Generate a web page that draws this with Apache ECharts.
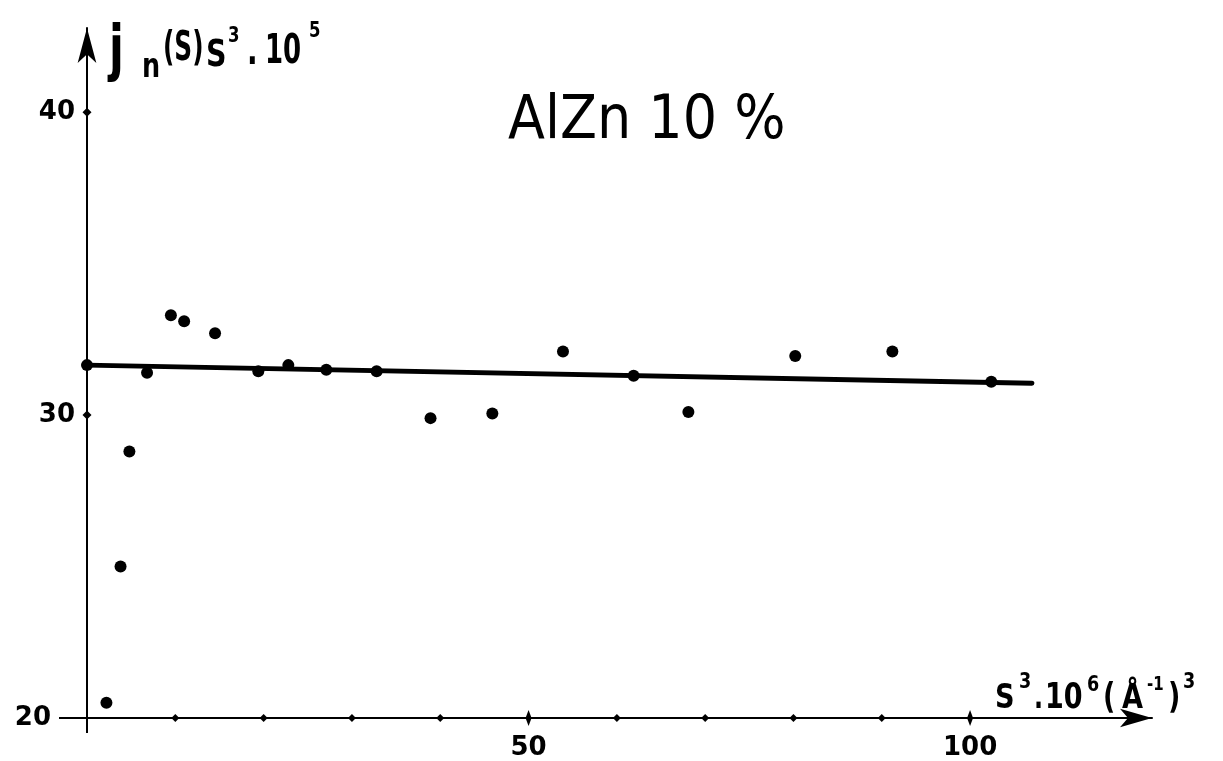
<!DOCTYPE html>
<html>
<head>
<meta charset="utf-8">
<script src="https://cdn.jsdelivr.net/npm/echarts@6/dist/echarts.min.js"></script>
<style>
  html, body { margin: 0; padding: 0; background: #fff; }
  #chart { width: 1223px; height: 761px; }
</style>
</head>
<body>
<div id="chart"></div>
<script>
// Measured points: s^3·10^6 (Å^-1)^3 against j_n(s)·s^3·10^5
const sCubed = [0, 2.2, 3.8, 4.8, 6.8, 9.5, 11.0, 14.5, 19.4, 22.8, 27.1, 32.8, 38.9, 45.9, 53.9, 61.9, 68.1, 80.2, 91.2, 102.4];
const jnS3 = [31.65, 20.5, 25.0, 28.8, 31.4, 33.3, 33.1, 32.7, 31.45, 31.65, 31.5, 31.45, 29.9, 30.05, 32.1, 31.3, 30.1, 31.95, 32.1, 31.1];

// Straight line fitted through the points
const fitX = [0, 107];
const fitY = [31.65, 31.05];

// Tick positions and labels
const xTickDots = [10, 20, 30, 40, 60, 70, 80, 90];
const xMajorTicks = [50, 100];
const xLabels = [50, 100];
const yTickDots = [30, 40];
const yLabels = [20, 30, 40];

const FONT = "'DejaVu Sans', sans-serif";
const INK = '#000';

// Hand-lettered captions, built piece by piece for super/subscripts
function piece(text, x, y, size, opts) {
  opts = opts || {};
  return {
    type: 'text',
    x: x, y: y,
    scaleX: opts.sx != null ? opts.sx : 0.75,
    silent: true,
    style: {
      text: text,
      fontSize: size,
      fontFamily: FONT,
      fontWeight: opts.normal ? 'normal' : 'bold',
      fill: INK,
      align: 'left',
      verticalAlign: 'middle'
    }
  };
}

const captions = [
  // y-axis name: j_n(S) S^3 . 10^5
  piece('j', 109, 53, 62, { sx: 0.7 }),
  piece('n', 142, 68, 34),
  piece('(S)', 163, 50, 40, { sx: 0.62 }),
  piece('S', 206, 56, 38),
  piece('3', 228, 36, 22),
  piece('.', 247, 54, 40, { sx: 0.7 }),
  piece('10', 265, 53, 40, { sx: 0.65 }),
  piece('5', 309, 31, 22),
  // x-axis name: S^3 . 10^6 (Å^-1)^3
  piece('S', 995, 699, 34, { sx: 0.8 }),
  piece('3', 1019, 682, 22, { sx: 0.8 }),
  piece('.', 1034, 699, 34, { sx: 0.7 }),
  piece('10', 1045, 699, 36),
  piece('6', 1087, 685, 22, { sx: 0.8 }),
  piece('(', 1103, 699, 36),
  piece('Å', 1122, 699, 34, { sx: 0.8 }),
  piece('-1', 1147, 685, 20),
  piece(')', 1168, 699, 36),
  piece('3', 1183, 682, 22, { sx: 0.8 }),
  // sample name
  piece('AlZn 10 %', 508, 122, 60, { sx: 0.9, normal: true })
];

const chart = echarts.init(document.getElementById('chart'), null, { renderer: 'canvas' });

chart.setOption({
  animation: false,
  backgroundColor: '#fff',
  grid: { left: 87, right: 71, top: 28, bottom: 41.5, containLabel: false },
  xAxis: {
    type: 'value',
    min: 0,
    max: 120.6,
    axisLine: {
      onZero: false,
      lineStyle: { color: INK, width: 2 },
      symbol: ['none', 'arrow'],
      symbolSize: [14, 32]
    },
    axisTick: { show: false },
    splitLine: { show: false },
    axisLabel: {
      customValues: xLabels,
      margin: 17,
      color: INK,
      fontSize: 26,
      fontWeight: 'bold',
      fontFamily: FONT
    }
  },
  yAxis: {
    type: 'value',
    min: 20,
    max: 42.78,
    axisLine: {
      show: true,
      lineStyle: { color: INK, width: 2 },
      symbol: ['none', 'arrow'],
      symbolSize: [14, 35]
    },
    axisTick: {
      show: true,
      customValues: [20],
      length: 28,
      lineStyle: { color: INK, width: 2 }
    },
    splitLine: { show: false },
    axisLabel: {
      customValues: yLabels,
      margin: 12,
      color: INK,
      fontSize: 26,
      fontWeight: 'bold',
      fontFamily: FONT,
      formatter: function (v) { return v === 20 ? '{p|20}' : String(v); },
      rich: {
        p: { padding: [0, 24, 0, 0], color: INK, fontSize: 26, fontWeight: 'bold', fontFamily: FONT }
      }
    }
  },
  graphic: captions,
  series: [
    {
      name: 'fit',
      type: 'line',
      data: fitX.map(function (x, i) { return [x, fitY[i]]; }),
      symbol: 'none',
      lineStyle: { color: INK, width: 5, cap: 'round' },
      silent: true,
      z: 2
    },
    {
      name: 'points',
      type: 'scatter',
      data: sCubed.map(function (x, i) { return [x, jnS3[i]]; }),
      symbol: 'circle',
      symbolSize: 12,
      itemStyle: { color: INK, opacity: 1 },
      clip: false,
      silent: true,
      z: 3
    },
    {
      name: 'x tick dots',
      type: 'scatter',
      data: xTickDots.map(function (x) { return [x, 20]; }),
      symbol: 'diamond',
      symbolSize: [8, 8],
      itemStyle: { color: INK, opacity: 1 },
      clip: false,
      silent: true,
      z: 4
    },
    {
      name: 'x major ticks',
      type: 'scatter',
      data: xMajorTicks.map(function (x) { return [x, 20]; }),
      symbol: 'diamond',
      symbolSize: [6, 16],
      itemStyle: { color: INK, opacity: 1 },
      clip: false,
      silent: true,
      z: 4
    },
    {
      name: 'y tick dots',
      type: 'scatter',
      data: yTickDots.map(function (y) { return [0, y]; }),
      symbol: 'diamond',
      symbolSize: [9, 9],
      itemStyle: { color: INK, opacity: 1 },
      clip: false,
      silent: true,
      z: 4
    }
  ]
});

// The vertical axis continues a little below the horizontal one
const origin = chart.convertToPixel({ gridIndex: 0 }, [0, 20]);
chart.setOption({
  graphic: captions.concat([{
    type: 'line',
    silent: true,
    shape: { x1: origin[0], y1: origin[1], x2: origin[0], y2: origin[1] + 15 },
    style: { stroke: INK, lineWidth: 2 }
  }])
});
</script>
</body>
</html>
